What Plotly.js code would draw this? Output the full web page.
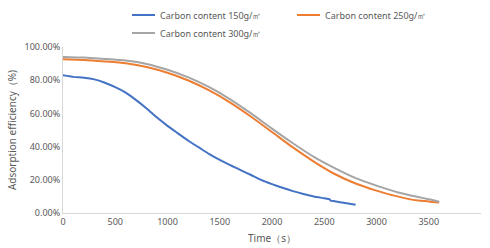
<!DOCTYPE html>
<html>
<head>
<meta charset="utf-8">
<script src="https://cdn.plot.ly/plotly-3.0.1.min.js"></script>
<style>html,body{margin:0;padding:0;background:#fff}#chart{width:490px;height:248px}</style>
</head>
<body>
<div id="chart"></div>
<script>
const names = ["Carbon content 150g/㎡", "Carbon content 250g/㎡", "Carbon content 300g/㎡"];
const colors = ["#4472C4", "#ED7D31", "#A5A5A5"];

const t150 = [0,100,200,300,400,500,600,700,800,900,1000,1100,1200,1300,1400,1500,1600,1700,1800,1900,2000,2100,2200,2300,2400,2500,2550,2560,2600,2700,2800];
const v150 = [83,82,81.5,80.5,78.5,75.8,72.5,68,63,57.5,52.5,48,43.5,39.5,35.5,32,28.8,25.8,22.9,19.8,17.4,15.2,13.2,11.5,10,8.9,8.3,7.5,7.1,6,5];

const t250 = [0,200,400,600,800,1000,1200,1400,1600,1800,2000,2200,2400,2600,2800,3000,3200,3300,3400,3500,3600];
const v250 = [92.6,92.2,91.3,90.2,88,84.5,79.8,73.8,66.5,58,48.8,39.5,31,23.5,17.8,13.5,10,8.5,7.5,7,6.3];

const t300 = [0,200,400,600,800,1000,1200,1400,1600,1800,2000,2200,2400,2600,2800,3000,3200,3400,3500,3600];
const v300 = [94,93.6,92.8,91.8,89.8,86.3,81.7,75.8,68.5,60,50.8,42,33.8,27,21,16.5,12.5,9.6,8.3,6.8];

const xTicks = [0,500,1000,1500,2000,2500,3000,3500,4000];
const yTicks = [0,0.2,0.4,0.6,0.8,1.0];

const series = [[t150,v150],[t250,v250],[t300,v300]];
const traces = series.map((s,i)=>({
  x: s[0], y: s[1].map(v=>v/100), type:'scatter', mode:'lines', name: names[i],
  line:{color:colors[i], width:2, shape:'spline', smoothing:0.6}, showlegend:false
}));

const font = {family:'"Noto Sans", "Open Sans", sans-serif', size:9, color:'#595959'};

// manual legend placement (paper coords), two columns, two rows
const W = 418, H = 166, L = 63, B = 213;
const px = p => (p - L) / W;
const py = p => (B - p) / H;
const legPos = [[132, 15], [297, 15], [132, 33]];
const shapes = [], annotations = [];
legPos.forEach((p, i) => {
  shapes.push({type:'line', xref:'paper', yref:'paper', x0:px(p[0]), x1:px(p[0]+23), y0:py(p[1]), y1:py(p[1]),
    line:{color:colors[i], width:2}});
  annotations.push({xref:'paper', yref:'paper', x:px(p[0]+26), y:py(p[1]), xanchor:'left', yanchor:'middle',
    text:names[i], showarrow:false, font:font});
});

const layout = {
  width:490, height:248,
  margin:{l:63, r:9, t:47, b:35},
  paper_bgcolor:'#fff', plot_bgcolor:'#fff',
  font: font,
  showlegend:false,
  shapes: shapes, annotations: annotations,
  xaxis:{range:[0,4000], tickvals:xTicks, ticks:'', showgrid:false, zeroline:false,
    showline:true, linecolor:'#D9D9D9', linewidth:1,
    title:{text:'Time（s）', font:{family:font.family,size:10,color:'#595959'}, standoff:8}},
  yaxis:{range:[0,1], tickvals:yTicks, tickformat:'.2%', ticks:'', showgrid:false, zeroline:false,
    showline:true, linecolor:'#D9D9D9', linewidth:1,
    title:{text:'Adsorption efficiency（%)', font:{family:font.family,size:10,color:'#595959'}, standoff:6}}
};
Plotly.newPlot('chart', traces, layout, {displayModeBar:false, staticPlot:true});
</script>
</body>
</html>
